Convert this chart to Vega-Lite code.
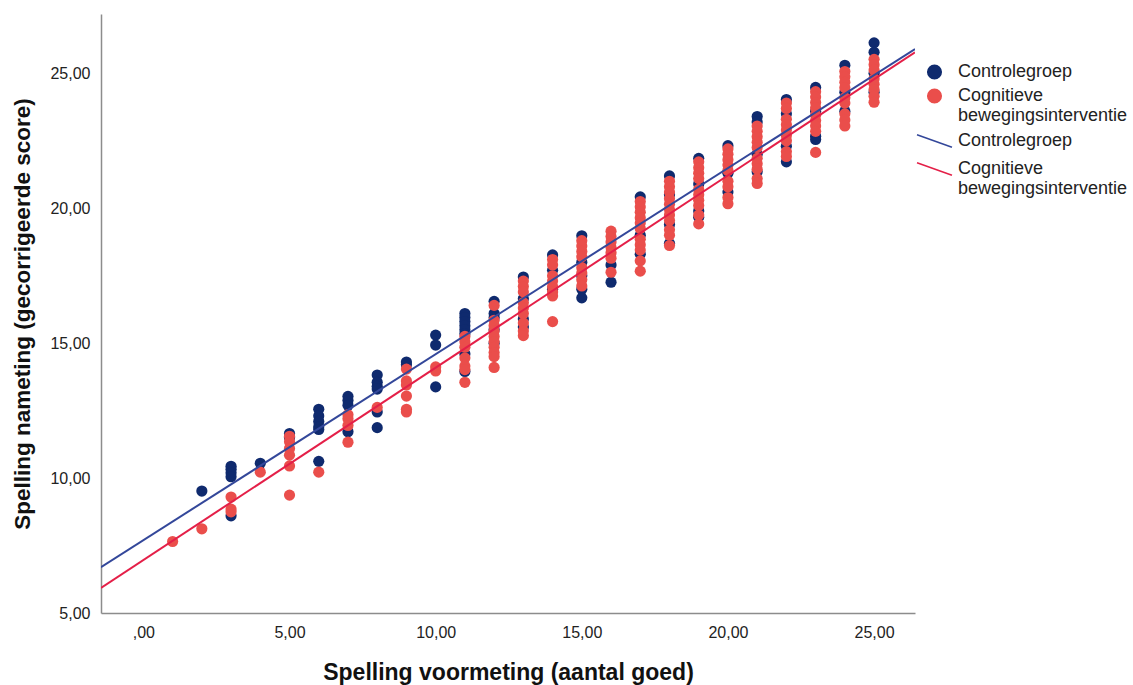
{
  "$schema": "https://vega.github.io/schema/vega-lite/v6.json",
  "width": 814,
  "height": 599,
  "autosize": {"type": "none"},
  "padding": {"left": 101, "top": 14, "right": 218, "bottom": 72},
  "background": "white",
  "config": {"view": {"stroke": null}, "font": "Liberation Sans"},
  "datasets": {
    "punten": [
      {"x": 2, "y": 9.52, "groep": "Controlegroep"},
      {"x": 3, "y": 10.44, "groep": "Controlegroep"},
      {"x": 3, "y": 10.33, "groep": "Controlegroep"},
      {"x": 3, "y": 10.2, "groep": "Controlegroep"},
      {"x": 3, "y": 10.05, "groep": "Controlegroep"},
      {"x": 3, "y": 8.6, "groep": "Controlegroep"},
      {"x": 4, "y": 10.55, "groep": "Controlegroep"},
      {"x": 5, "y": 11.65, "groep": "Controlegroep"},
      {"x": 5, "y": 11.5, "groep": "Controlegroep"},
      {"x": 6, "y": 12.55, "groep": "Controlegroep"},
      {"x": 6, "y": 12.3, "groep": "Controlegroep"},
      {"x": 6, "y": 12.1, "groep": "Controlegroep"},
      {"x": 6, "y": 11.9, "groep": "Controlegroep"},
      {"x": 6, "y": 11.8, "groep": "Controlegroep"},
      {"x": 6, "y": 10.62, "groep": "Controlegroep"},
      {"x": 7, "y": 13.03, "groep": "Controlegroep"},
      {"x": 7, "y": 12.88, "groep": "Controlegroep"},
      {"x": 7, "y": 12.7, "groep": "Controlegroep"},
      {"x": 7, "y": 11.72, "groep": "Controlegroep"},
      {"x": 8, "y": 13.82, "groep": "Controlegroep"},
      {"x": 8, "y": 13.55, "groep": "Controlegroep"},
      {"x": 8, "y": 13.4, "groep": "Controlegroep"},
      {"x": 8, "y": 13.3, "groep": "Controlegroep"},
      {"x": 8, "y": 12.45, "groep": "Controlegroep"},
      {"x": 8, "y": 11.87, "groep": "Controlegroep"},
      {"x": 9, "y": 14.3, "groep": "Controlegroep"},
      {"x": 9, "y": 14.2, "groep": "Controlegroep"},
      {"x": 10, "y": 15.3, "groep": "Controlegroep"},
      {"x": 10, "y": 14.93, "groep": "Controlegroep"},
      {"x": 10, "y": 13.38, "groep": "Controlegroep"},
      {"x": 11, "y": 16.1, "groep": "Controlegroep"},
      {"x": 11, "y": 15.95, "groep": "Controlegroep"},
      {"x": 11, "y": 15.8, "groep": "Controlegroep"},
      {"x": 11, "y": 15.65, "groep": "Controlegroep"},
      {"x": 11, "y": 15.5, "groep": "Controlegroep"},
      {"x": 11, "y": 15.35, "groep": "Controlegroep"},
      {"x": 11, "y": 14.6, "groep": "Controlegroep"},
      {"x": 11, "y": 13.95, "groep": "Controlegroep"},
      {"x": 12, "y": 16.55, "groep": "Controlegroep"},
      {"x": 12, "y": 16.1, "groep": "Controlegroep"},
      {"x": 12, "y": 15.95, "groep": "Controlegroep"},
      {"x": 12, "y": 15.5, "groep": "Controlegroep"},
      {"x": 12, "y": 15.0, "groep": "Controlegroep"},
      {"x": 13, "y": 17.45, "groep": "Controlegroep"},
      {"x": 13, "y": 16.65, "groep": "Controlegroep"},
      {"x": 13, "y": 15.9, "groep": "Controlegroep"},
      {"x": 13, "y": 15.6, "groep": "Controlegroep"},
      {"x": 14, "y": 18.27, "groep": "Controlegroep"},
      {"x": 14, "y": 17.7, "groep": "Controlegroep"},
      {"x": 14, "y": 17.0, "groep": "Controlegroep"},
      {"x": 15, "y": 18.98, "groep": "Controlegroep"},
      {"x": 15, "y": 18.0, "groep": "Controlegroep"},
      {"x": 15, "y": 17.5, "groep": "Controlegroep"},
      {"x": 15, "y": 17.0, "groep": "Controlegroep"},
      {"x": 15, "y": 16.68, "groep": "Controlegroep"},
      {"x": 16, "y": 17.9, "groep": "Controlegroep"},
      {"x": 16, "y": 17.26, "groep": "Controlegroep"},
      {"x": 17, "y": 20.42, "groep": "Controlegroep"},
      {"x": 17, "y": 19.0, "groep": "Controlegroep"},
      {"x": 17, "y": 18.3, "groep": "Controlegroep"},
      {"x": 18, "y": 21.2, "groep": "Controlegroep"},
      {"x": 18, "y": 20.5, "groep": "Controlegroep"},
      {"x": 18, "y": 19.4, "groep": "Controlegroep"},
      {"x": 18, "y": 18.7, "groep": "Controlegroep"},
      {"x": 19, "y": 21.85, "groep": "Controlegroep"},
      {"x": 19, "y": 20.9, "groep": "Controlegroep"},
      {"x": 19, "y": 19.9, "groep": "Controlegroep"},
      {"x": 19, "y": 19.67, "groep": "Controlegroep"},
      {"x": 20, "y": 22.32, "groep": "Controlegroep"},
      {"x": 20, "y": 21.3, "groep": "Controlegroep"},
      {"x": 20, "y": 20.6, "groep": "Controlegroep"},
      {"x": 21, "y": 23.4, "groep": "Controlegroep"},
      {"x": 21, "y": 23.2, "groep": "Controlegroep"},
      {"x": 21, "y": 22.0, "groep": "Controlegroep"},
      {"x": 21, "y": 21.35, "groep": "Controlegroep"},
      {"x": 22, "y": 24.03, "groep": "Controlegroep"},
      {"x": 22, "y": 23.5, "groep": "Controlegroep"},
      {"x": 22, "y": 22.3, "groep": "Controlegroep"},
      {"x": 22, "y": 21.72, "groep": "Controlegroep"},
      {"x": 23, "y": 24.48, "groep": "Controlegroep"},
      {"x": 23, "y": 23.6, "groep": "Controlegroep"},
      {"x": 23, "y": 22.67, "groep": "Controlegroep"},
      {"x": 23, "y": 22.55, "groep": "Controlegroep"},
      {"x": 24, "y": 25.3, "groep": "Controlegroep"},
      {"x": 24, "y": 24.3, "groep": "Controlegroep"},
      {"x": 24, "y": 23.6, "groep": "Controlegroep"},
      {"x": 25, "y": 26.13, "groep": "Controlegroep"},
      {"x": 25, "y": 25.78, "groep": "Controlegroep"},
      {"x": 25, "y": 25.0, "groep": "Controlegroep"},
      {"x": 25, "y": 24.3, "groep": "Controlegroep"},
      {"x": 1, "y": 7.65, "groep": "Cognitieve bewegingsinterventie"},
      {"x": 2, "y": 8.12, "groep": "Cognitieve bewegingsinterventie"},
      {"x": 3, "y": 9.3, "groep": "Cognitieve bewegingsinterventie"},
      {"x": 3, "y": 8.85, "groep": "Cognitieve bewegingsinterventie"},
      {"x": 3, "y": 8.75, "groep": "Cognitieve bewegingsinterventie"},
      {"x": 4, "y": 10.22, "groep": "Cognitieve bewegingsinterventie"},
      {"x": 5, "y": 11.55, "groep": "Cognitieve bewegingsinterventie"},
      {"x": 5, "y": 11.35, "groep": "Cognitieve bewegingsinterventie"},
      {"x": 5, "y": 11.1, "groep": "Cognitieve bewegingsinterventie"},
      {"x": 5, "y": 10.85, "groep": "Cognitieve bewegingsinterventie"},
      {"x": 5, "y": 10.45, "groep": "Cognitieve bewegingsinterventie"},
      {"x": 5, "y": 9.37, "groep": "Cognitieve bewegingsinterventie"},
      {"x": 6, "y": 10.22, "groep": "Cognitieve bewegingsinterventie"},
      {"x": 7, "y": 12.35, "groep": "Cognitieve bewegingsinterventie"},
      {"x": 7, "y": 12.2, "groep": "Cognitieve bewegingsinterventie"},
      {"x": 7, "y": 11.95, "groep": "Cognitieve bewegingsinterventie"},
      {"x": 7, "y": 11.33, "groep": "Cognitieve bewegingsinterventie"},
      {"x": 8, "y": 12.62, "groep": "Cognitieve bewegingsinterventie"},
      {"x": 9, "y": 14.04, "groep": "Cognitieve bewegingsinterventie"},
      {"x": 9, "y": 13.6, "groep": "Cognitieve bewegingsinterventie"},
      {"x": 9, "y": 13.45, "groep": "Cognitieve bewegingsinterventie"},
      {"x": 9, "y": 13.04, "groep": "Cognitieve bewegingsinterventie"},
      {"x": 9, "y": 12.55, "groep": "Cognitieve bewegingsinterventie"},
      {"x": 9, "y": 12.45, "groep": "Cognitieve bewegingsinterventie"},
      {"x": 10, "y": 14.12, "groep": "Cognitieve bewegingsinterventie"},
      {"x": 10, "y": 13.97, "groep": "Cognitieve bewegingsinterventie"},
      {"x": 11, "y": 15.25, "groep": "Cognitieve bewegingsinterventie"},
      {"x": 11, "y": 15.05, "groep": "Cognitieve bewegingsinterventie"},
      {"x": 11, "y": 14.85, "groep": "Cognitieve bewegingsinterventie"},
      {"x": 11, "y": 14.45, "groep": "Cognitieve bewegingsinterventie"},
      {"x": 11, "y": 14.15, "groep": "Cognitieve bewegingsinterventie"},
      {"x": 11, "y": 14.02, "groep": "Cognitieve bewegingsinterventie"},
      {"x": 11, "y": 13.55, "groep": "Cognitieve bewegingsinterventie"},
      {"x": 12, "y": 16.4, "groep": "Cognitieve bewegingsinterventie"},
      {"x": 12, "y": 15.85, "groep": "Cognitieve bewegingsinterventie"},
      {"x": 12, "y": 15.65, "groep": "Cognitieve bewegingsinterventie"},
      {"x": 12, "y": 15.45, "groep": "Cognitieve bewegingsinterventie"},
      {"x": 12, "y": 15.25, "groep": "Cognitieve bewegingsinterventie"},
      {"x": 12, "y": 15.05, "groep": "Cognitieve bewegingsinterventie"},
      {"x": 12, "y": 14.85, "groep": "Cognitieve bewegingsinterventie"},
      {"x": 12, "y": 14.65, "groep": "Cognitieve bewegingsinterventie"},
      {"x": 12, "y": 14.5, "groep": "Cognitieve bewegingsinterventie"},
      {"x": 12, "y": 14.1, "groep": "Cognitieve bewegingsinterventie"},
      {"x": 13, "y": 17.3, "groep": "Cognitieve bewegingsinterventie"},
      {"x": 13, "y": 17.1, "groep": "Cognitieve bewegingsinterventie"},
      {"x": 13, "y": 16.9, "groep": "Cognitieve bewegingsinterventie"},
      {"x": 13, "y": 16.5, "groep": "Cognitieve bewegingsinterventie"},
      {"x": 13, "y": 16.3, "groep": "Cognitieve bewegingsinterventie"},
      {"x": 13, "y": 16.1, "groep": "Cognitieve bewegingsinterventie"},
      {"x": 13, "y": 15.75, "groep": "Cognitieve bewegingsinterventie"},
      {"x": 13, "y": 15.45, "groep": "Cognitieve bewegingsinterventie"},
      {"x": 13, "y": 15.28, "groep": "Cognitieve bewegingsinterventie"},
      {"x": 14, "y": 18.1, "groep": "Cognitieve bewegingsinterventie"},
      {"x": 14, "y": 17.9, "groep": "Cognitieve bewegingsinterventie"},
      {"x": 14, "y": 17.5, "groep": "Cognitieve bewegingsinterventie"},
      {"x": 14, "y": 17.3, "groep": "Cognitieve bewegingsinterventie"},
      {"x": 14, "y": 17.1, "groep": "Cognitieve bewegingsinterventie"},
      {"x": 14, "y": 16.9, "groep": "Cognitieve bewegingsinterventie"},
      {"x": 14, "y": 16.75, "groep": "Cognitieve bewegingsinterventie"},
      {"x": 14, "y": 15.8, "groep": "Cognitieve bewegingsinterventie"},
      {"x": 15, "y": 18.8, "groep": "Cognitieve bewegingsinterventie"},
      {"x": 15, "y": 18.6, "groep": "Cognitieve bewegingsinterventie"},
      {"x": 15, "y": 18.4, "groep": "Cognitieve bewegingsinterventie"},
      {"x": 15, "y": 18.2, "groep": "Cognitieve bewegingsinterventie"},
      {"x": 15, "y": 17.8, "groep": "Cognitieve bewegingsinterventie"},
      {"x": 15, "y": 17.6, "groep": "Cognitieve bewegingsinterventie"},
      {"x": 15, "y": 17.35, "groep": "Cognitieve bewegingsinterventie"},
      {"x": 15, "y": 17.12, "groep": "Cognitieve bewegingsinterventie"},
      {"x": 16, "y": 19.15, "groep": "Cognitieve bewegingsinterventie"},
      {"x": 16, "y": 18.95, "groep": "Cognitieve bewegingsinterventie"},
      {"x": 16, "y": 18.75, "groep": "Cognitieve bewegingsinterventie"},
      {"x": 16, "y": 18.55, "groep": "Cognitieve bewegingsinterventie"},
      {"x": 16, "y": 18.35, "groep": "Cognitieve bewegingsinterventie"},
      {"x": 16, "y": 18.15, "groep": "Cognitieve bewegingsinterventie"},
      {"x": 16, "y": 17.63, "groep": "Cognitieve bewegingsinterventie"},
      {"x": 17, "y": 20.25, "groep": "Cognitieve bewegingsinterventie"},
      {"x": 17, "y": 20.05, "groep": "Cognitieve bewegingsinterventie"},
      {"x": 17, "y": 19.85, "groep": "Cognitieve bewegingsinterventie"},
      {"x": 17, "y": 19.65, "groep": "Cognitieve bewegingsinterventie"},
      {"x": 17, "y": 19.45, "groep": "Cognitieve bewegingsinterventie"},
      {"x": 17, "y": 19.25, "groep": "Cognitieve bewegingsinterventie"},
      {"x": 17, "y": 18.85, "groep": "Cognitieve bewegingsinterventie"},
      {"x": 17, "y": 18.65, "groep": "Cognitieve bewegingsinterventie"},
      {"x": 17, "y": 18.45, "groep": "Cognitieve bewegingsinterventie"},
      {"x": 17, "y": 18.05, "groep": "Cognitieve bewegingsinterventie"},
      {"x": 17, "y": 17.67, "groep": "Cognitieve bewegingsinterventie"},
      {"x": 18, "y": 21.0, "groep": "Cognitieve bewegingsinterventie"},
      {"x": 18, "y": 20.8, "groep": "Cognitieve bewegingsinterventie"},
      {"x": 18, "y": 20.6, "groep": "Cognitieve bewegingsinterventie"},
      {"x": 18, "y": 20.35, "groep": "Cognitieve bewegingsinterventie"},
      {"x": 18, "y": 20.15, "groep": "Cognitieve bewegingsinterventie"},
      {"x": 18, "y": 19.95, "groep": "Cognitieve bewegingsinterventie"},
      {"x": 18, "y": 19.75, "groep": "Cognitieve bewegingsinterventie"},
      {"x": 18, "y": 19.55, "groep": "Cognitieve bewegingsinterventie"},
      {"x": 18, "y": 19.2, "groep": "Cognitieve bewegingsinterventie"},
      {"x": 18, "y": 19.0, "groep": "Cognitieve bewegingsinterventie"},
      {"x": 18, "y": 18.62, "groep": "Cognitieve bewegingsinterventie"},
      {"x": 19, "y": 21.72, "groep": "Cognitieve bewegingsinterventie"},
      {"x": 19, "y": 21.5, "groep": "Cognitieve bewegingsinterventie"},
      {"x": 19, "y": 21.3, "groep": "Cognitieve bewegingsinterventie"},
      {"x": 19, "y": 21.1, "groep": "Cognitieve bewegingsinterventie"},
      {"x": 19, "y": 20.7, "groep": "Cognitieve bewegingsinterventie"},
      {"x": 19, "y": 20.5, "groep": "Cognitieve bewegingsinterventie"},
      {"x": 19, "y": 20.3, "groep": "Cognitieve bewegingsinterventie"},
      {"x": 19, "y": 20.1, "groep": "Cognitieve bewegingsinterventie"},
      {"x": 19, "y": 19.75, "groep": "Cognitieve bewegingsinterventie"},
      {"x": 19, "y": 19.42, "groep": "Cognitieve bewegingsinterventie"},
      {"x": 20, "y": 22.2, "groep": "Cognitieve bewegingsinterventie"},
      {"x": 20, "y": 22.0, "groep": "Cognitieve bewegingsinterventie"},
      {"x": 20, "y": 21.8, "groep": "Cognitieve bewegingsinterventie"},
      {"x": 20, "y": 21.6, "groep": "Cognitieve bewegingsinterventie"},
      {"x": 20, "y": 21.4, "groep": "Cognitieve bewegingsinterventie"},
      {"x": 20, "y": 21.0, "groep": "Cognitieve bewegingsinterventie"},
      {"x": 20, "y": 20.8, "groep": "Cognitieve bewegingsinterventie"},
      {"x": 20, "y": 20.4, "groep": "Cognitieve bewegingsinterventie"},
      {"x": 20, "y": 20.17, "groep": "Cognitieve bewegingsinterventie"},
      {"x": 21, "y": 23.05, "groep": "Cognitieve bewegingsinterventie"},
      {"x": 21, "y": 22.85, "groep": "Cognitieve bewegingsinterventie"},
      {"x": 21, "y": 22.65, "groep": "Cognitieve bewegingsinterventie"},
      {"x": 21, "y": 22.45, "groep": "Cognitieve bewegingsinterventie"},
      {"x": 21, "y": 22.25, "groep": "Cognitieve bewegingsinterventie"},
      {"x": 21, "y": 21.85, "groep": "Cognitieve bewegingsinterventie"},
      {"x": 21, "y": 21.65, "groep": "Cognitieve bewegingsinterventie"},
      {"x": 21, "y": 21.45, "groep": "Cognitieve bewegingsinterventie"},
      {"x": 21, "y": 21.1, "groep": "Cognitieve bewegingsinterventie"},
      {"x": 21, "y": 20.92, "groep": "Cognitieve bewegingsinterventie"},
      {"x": 22, "y": 23.9, "groep": "Cognitieve bewegingsinterventie"},
      {"x": 22, "y": 23.7, "groep": "Cognitieve bewegingsinterventie"},
      {"x": 22, "y": 23.3, "groep": "Cognitieve bewegingsinterventie"},
      {"x": 22, "y": 23.1, "groep": "Cognitieve bewegingsinterventie"},
      {"x": 22, "y": 22.9, "groep": "Cognitieve bewegingsinterventie"},
      {"x": 22, "y": 22.7, "groep": "Cognitieve bewegingsinterventie"},
      {"x": 22, "y": 22.5, "groep": "Cognitieve bewegingsinterventie"},
      {"x": 22, "y": 22.1, "groep": "Cognitieve bewegingsinterventie"},
      {"x": 22, "y": 21.92, "groep": "Cognitieve bewegingsinterventie"},
      {"x": 23, "y": 24.32, "groep": "Cognitieve bewegingsinterventie"},
      {"x": 23, "y": 24.12, "groep": "Cognitieve bewegingsinterventie"},
      {"x": 23, "y": 23.92, "groep": "Cognitieve bewegingsinterventie"},
      {"x": 23, "y": 23.72, "groep": "Cognitieve bewegingsinterventie"},
      {"x": 23, "y": 23.45, "groep": "Cognitieve bewegingsinterventie"},
      {"x": 23, "y": 23.25, "groep": "Cognitieve bewegingsinterventie"},
      {"x": 23, "y": 23.05, "groep": "Cognitieve bewegingsinterventie"},
      {"x": 23, "y": 22.85, "groep": "Cognitieve bewegingsinterventie"},
      {"x": 23, "y": 22.07, "groep": "Cognitieve bewegingsinterventie"},
      {"x": 24, "y": 25.07, "groep": "Cognitieve bewegingsinterventie"},
      {"x": 24, "y": 24.87, "groep": "Cognitieve bewegingsinterventie"},
      {"x": 24, "y": 24.67, "groep": "Cognitieve bewegingsinterventie"},
      {"x": 24, "y": 24.47, "groep": "Cognitieve bewegingsinterventie"},
      {"x": 24, "y": 24.1, "groep": "Cognitieve bewegingsinterventie"},
      {"x": 24, "y": 23.9, "groep": "Cognitieve bewegingsinterventie"},
      {"x": 24, "y": 23.5, "groep": "Cognitieve bewegingsinterventie"},
      {"x": 24, "y": 23.27, "groep": "Cognitieve bewegingsinterventie"},
      {"x": 24, "y": 23.05, "groep": "Cognitieve bewegingsinterventie"},
      {"x": 25, "y": 25.52, "groep": "Cognitieve bewegingsinterventie"},
      {"x": 25, "y": 25.32, "groep": "Cognitieve bewegingsinterventie"},
      {"x": 25, "y": 25.12, "groep": "Cognitieve bewegingsinterventie"},
      {"x": 25, "y": 24.8, "groep": "Cognitieve bewegingsinterventie"},
      {"x": 25, "y": 24.6, "groep": "Cognitieve bewegingsinterventie"},
      {"x": 25, "y": 24.4, "groep": "Cognitieve bewegingsinterventie"},
      {"x": 25, "y": 24.15, "groep": "Cognitieve bewegingsinterventie"},
      {"x": 25, "y": 23.93, "groep": "Cognitieve bewegingsinterventie"}
    ],
    "lijnen": [
      {"x": -1.45, "y": 6.7, "lijn": "Controlegroep"},
      {"x": 26.4, "y": 25.9, "lijn": "Controlegroep"},
      {"x": -1.45, "y": 5.93, "lijn": "Cognitieve bewegingsinterventie"},
      {"x": 26.4, "y": 25.78, "lijn": "Cognitieve bewegingsinterventie"}
    ]
  },
  "layer": [
    {
      "data": {"name": "punten"},
      "mark": {"type": "point", "filled": true, "opacity": 1, "size": 125, "shape": "circle", "strokeWidth": 0},
      "encoding": {
        "x": {
          "field": "x", "type": "quantitative",
          "scale": {"domain": [-1.45, 26.4], "nice": false, "zero": false},
          "axis": {
            "title": "Spelling voormeting (aantal goed)",
            "values": [0, 5, 10, 15, 20, 25],
            "labelExpr": "datum.value == 0 ? ',00' : replace(format(datum.value, '.2f'), '.', ',')",
            "grid": false, "ticks": false, "labelFlush": false,
            "domainColor": "#8c8c8c", "domainWidth": 1.5,
            "labelFont": "Liberation Sans", "labelFontSize": 16, "labelColor": "#222222", "labelPadding": 11,
            "titleFont": "Liberation Sans", "titleFontSize": 23, "titleFontWeight": "bold", "titleColor": "#111111", "titlePadding": 21
          }
        },
        "y": {
          "field": "y", "type": "quantitative",
          "scale": {"domain": [5, 27.2], "nice": false, "zero": false},
          "axis": {
            "title": "Spelling nameting (gecorrigeerde score)",
            "values": [5, 10, 15, 20, 25],
            "labelExpr": "replace(format(datum.value, '.2f'), '.', ',')",
            "grid": false, "ticks": false, "labelFlush": false,
            "domainColor": "#8c8c8c", "domainWidth": 1.5,
            "labelFont": "Liberation Sans", "labelFontSize": 16, "labelColor": "#222222", "labelPadding": 11,
            "titleFont": "Liberation Sans", "titleFontSize": 22.5, "titleFontWeight": "bold", "titleColor": "#111111", "titlePadding": 15
          }
        },
        "color": {
          "field": "groep", "type": "nominal",
          "scale": {"domain": ["Controlegroep", "Cognitieve bewegingsinterventie"], "range": ["#0f2a6e", "#ea4e4b"]},
          "legend": {
            "title": null, "orient": "none", "legendX": 824.5, "legendY": 49,
            "symbolType": "circle", "symbolSize": 227, "symbolStrokeWidth": 1.5,
            "labelFont": "Liberation Sans", "labelFontSize": 18, "labelColor": "#222222", "labelLimit": 400, "labelOffset": 14.5,
            "rowPadding": 6, "padding": 0,
            "labelExpr": "datum.label == 'Cognitieve bewegingsinterventie' ? ['Cognitieve', 'bewegingsinterventie'] : datum.label",
            "encode": {
              "symbols": {"y": {"value": {"expr": "datum.size * 0.5 + (datum.label == 'Cognitieve bewegingsinterventie' ? 7 : 0)"}}}
            }
          }
        }
      }
    },
    {
      "data": {"name": "lijnen"},
      "mark": {"type": "line", "strokeWidth": 2, "clip": true},
      "encoding": {
        "x": {"field": "x", "type": "quantitative", "scale": {"domain": [-1.45, 26.4], "nice": false, "zero": false}},
        "y": {"field": "y", "type": "quantitative", "scale": {"domain": [5, 27.2], "nice": false, "zero": false}},
        "stroke": {
          "field": "lijn", "type": "nominal",
          "scale": {"domain": ["Cognitieve bewegingsinterventie", "Controlegroep"], "range": ["#e41f48", "#33479a"]},
          "legend": {
            "title": null, "orient": "none", "legendX": 824.5, "legendY": 118,
            "values": ["Controlegroep", "Cognitieve bewegingsinterventie"],
            "symbolType": "M-2.32,-0.84L2.32,0.84", "symbolSize": 227, "symbolStrokeWidth": 1.5,
            "labelFont": "Liberation Sans", "labelFontSize": 18, "labelColor": "#222222", "labelLimit": 400, "labelOffset": 14.5,
            "rowPadding": 8, "padding": 0,
            "labelExpr": "datum.label == 'Cognitieve bewegingsinterventie' ? ['Cognitieve', 'bewegingsinterventie'] : datum.label"
          }
        }
      }
    }
  ]
}
